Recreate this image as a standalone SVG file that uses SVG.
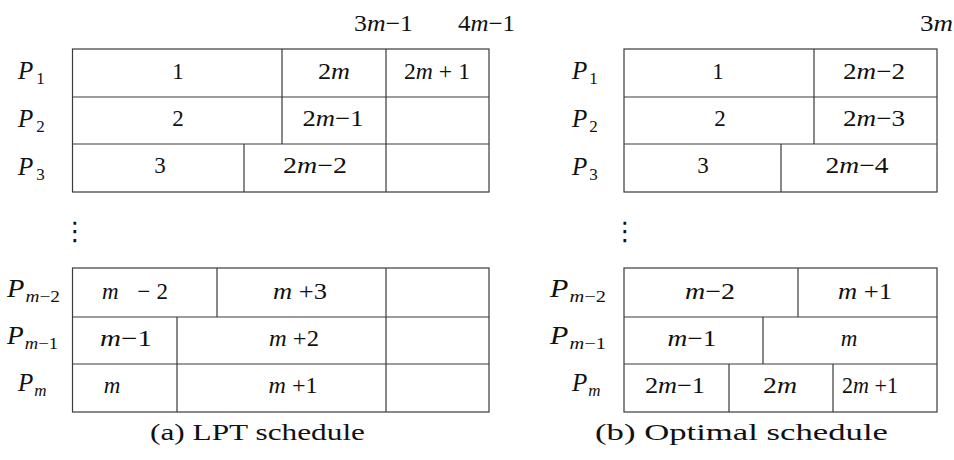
<svg xmlns="http://www.w3.org/2000/svg" width="954" height="460" viewBox="0 0 954 460">
<style>
.ln{stroke:#3a3a3a;stroke-width:1.2;fill:none}
text{font-family:'Liberation Serif',serif;fill:#111}
.t{font-size:23px}
.c{text-anchor:middle}
.i{font-style:italic}
.p{font-size:25px}
.s{font-size:17px}
.cap{font-size:23px}
.dots{font-family:'DejaVu Sans',sans-serif;font-size:26px;text-anchor:middle}
</style>
<rect width="954" height="460" fill="#fff"/>

<g id="time-labels">
<text class="t" x="354" y="31" textLength="59" lengthAdjust="spacingAndGlyphs">3<tspan class="i">m</tspan>−1</text>
<text class="t" x="458" y="31" textLength="57" lengthAdjust="spacingAndGlyphs">4<tspan class="i">m</tspan>−1</text>
<text class="t" x="920" y="31" textLength="33" lengthAdjust="spacingAndGlyphs">3<tspan class="i">m</tspan></text>
</g>

<g id="lpt-schedule">
<g id="lpt-frame">
<rect class="ln" x="72.5" y="49" width="416.5" height="143"/>
<line class="ln" x1="72.5" y1="97" x2="489" y2="97"/>
<line class="ln" x1="72.5" y1="144" x2="489" y2="144"/>
<rect class="ln" x="72.5" y="268" width="416.5" height="144"/>
<line class="ln" x1="72.5" y1="317" x2="489" y2="317"/>
<line class="ln" x1="72.5" y1="364" x2="489" y2="364"/>
</g>
<g id="lpt-p1">
<text class="p" x="18" y="79"><tspan class="i">P</tspan><tspan class="s" dx="3" dy="5">1</tspan></text>
<line class="ln" x1="282" y1="49" x2="282" y2="97"/>
<line class="ln" x1="386" y1="49" x2="386" y2="97"/>
<text class="t c" x="178" y="79">1</text>
<text class="t c" x="334" y="79" textLength="32" lengthAdjust="spacingAndGlyphs">2<tspan class="i">m</tspan></text>
<text class="t c" x="437" y="79" textLength="66" lengthAdjust="spacingAndGlyphs">2<tspan class="i">m</tspan> + 1</text>
</g>
<g id="lpt-p2">
<text class="p" x="18" y="127"><tspan class="i">P</tspan><tspan class="s" dx="3" dy="5">2</tspan></text>
<line class="ln" x1="282" y1="97" x2="282" y2="144"/>
<line class="ln" x1="386" y1="97" x2="386" y2="144"/>
<text class="t c" x="178" y="126">2</text>
<text class="t c" x="333" y="126" textLength="61" lengthAdjust="spacingAndGlyphs">2<tspan class="i">m</tspan>−1</text>
</g>
<g id="lpt-p3">
<text class="p" x="18" y="175"><tspan class="i">P</tspan><tspan class="s" dx="3" dy="5">3</tspan></text>
<line class="ln" x1="244" y1="144" x2="244" y2="192"/>
<line class="ln" x1="386" y1="144" x2="386" y2="192"/>
<text class="t c" x="160" y="173">3</text>
<text class="t c" x="315" y="173" textLength="64" lengthAdjust="spacingAndGlyphs">2<tspan class="i">m</tspan>−2</text>
</g>
<text class="dots" x="75" y="240">⋮</text>
<g id="lpt-pm2">
<text class="p" x="7" y="297" textLength="53" lengthAdjust="spacingAndGlyphs"><tspan class="i">P</tspan><tspan class="s i" dx="1" dy="5">m</tspan><tspan class="s">−2</tspan></text>
<line class="ln" x1="217" y1="268" x2="217" y2="317"/>
<line class="ln" x1="386" y1="268" x2="386" y2="317"/>
<text class="t c" x="135" y="299" textLength="66" lengthAdjust="spacing"><tspan class="i">m</tspan> −2</text>
<text class="t c" x="300" y="299" textLength="54" lengthAdjust="spacingAndGlyphs"><tspan class="i">m</tspan> +3</text>
</g>
<g id="lpt-pm1">
<text class="p" x="7" y="344" textLength="51" lengthAdjust="spacingAndGlyphs"><tspan class="i">P</tspan><tspan class="s i" dx="1" dy="5">m</tspan><tspan class="s">−1</tspan></text>
<line class="ln" x1="177" y1="317" x2="177" y2="364"/>
<line class="ln" x1="386" y1="317" x2="386" y2="364"/>
<text class="t c" x="126" y="346" textLength="52" lengthAdjust="spacingAndGlyphs"><tspan class="i">m</tspan>−1</text>
<text class="t c" x="294" y="346" textLength="50" lengthAdjust="spacingAndGlyphs"><tspan class="i">m</tspan> +2</text>
</g>
<g id="lpt-pm">
<text class="p" x="18" y="391"><tspan class="i">P</tspan><tspan class="s i" dx="1" dy="5">m</tspan></text>
<line class="ln" x1="177" y1="364" x2="177" y2="412"/>
<line class="ln" x1="386" y1="364" x2="386" y2="412"/>
<text class="t c" x="112" y="393"><tspan class="i">m</tspan></text>
<text class="t c" x="293" y="393" textLength="49" lengthAdjust="spacingAndGlyphs"><tspan class="i">m</tspan> +1</text>
</g>
<text class="cap" x="150" y="440" textLength="215" lengthAdjust="spacingAndGlyphs">(a) LPT  schedule</text>
</g>

<g id="optimal-schedule">
<g id="opt-frame">
<rect class="ln" x="624" y="49" width="313" height="143"/>
<line class="ln" x1="624" y1="97" x2="937" y2="97"/>
<line class="ln" x1="624" y1="144" x2="937" y2="144"/>
<rect class="ln" x="624" y="268" width="313" height="144"/>
<line class="ln" x1="624" y1="317" x2="937" y2="317"/>
<line class="ln" x1="624" y1="364" x2="937" y2="364"/>
</g>
<g id="opt-p1">
<text class="p" x="572" y="79"><tspan class="i">P</tspan><tspan class="s" dx="2" dy="5">1</tspan></text>
<line class="ln" x1="814" y1="49" x2="814" y2="97"/>
<text class="t c" x="718" y="79">1</text>
<text class="t c" x="874" y="79" textLength="62" lengthAdjust="spacingAndGlyphs">2<tspan class="i">m</tspan>−2</text>
</g>
<g id="opt-p2">
<text class="p" x="572" y="127"><tspan class="i">P</tspan><tspan class="s" dx="2" dy="5">2</tspan></text>
<line class="ln" x1="814" y1="97" x2="814" y2="144"/>
<text class="t c" x="720" y="126">2</text>
<text class="t c" x="874" y="126" textLength="62" lengthAdjust="spacingAndGlyphs">2<tspan class="i">m</tspan>−3</text>
</g>
<g id="opt-p3">
<text class="p" x="572" y="175"><tspan class="i">P</tspan><tspan class="s" dx="2" dy="5">3</tspan></text>
<line class="ln" x1="781" y1="144" x2="781" y2="192"/>
<text class="t c" x="703" y="173">3</text>
<text class="t c" x="857" y="173" textLength="63" lengthAdjust="spacingAndGlyphs">2<tspan class="i">m</tspan>−4</text>
</g>
<text class="dots" x="625" y="240">⋮</text>
<g id="opt-pm2">
<text class="p" x="550" y="297" textLength="56" lengthAdjust="spacingAndGlyphs"><tspan class="i">P</tspan><tspan class="s i" dx="1" dy="5">m</tspan><tspan class="s">−2</tspan></text>
<line class="ln" x1="798" y1="268" x2="798" y2="317"/>
<text class="t c" x="710" y="299" textLength="50" lengthAdjust="spacingAndGlyphs"><tspan class="i">m</tspan>−2</text>
<text class="t c" x="865" y="299" textLength="54" lengthAdjust="spacingAndGlyphs"><tspan class="i">m</tspan> +1</text>
</g>
<g id="opt-pm1">
<text class="p" x="550" y="344" textLength="56" lengthAdjust="spacingAndGlyphs"><tspan class="i">P</tspan><tspan class="s i" dx="1" dy="5">m</tspan><tspan class="s">−1</tspan></text>
<line class="ln" x1="763" y1="317" x2="763" y2="364"/>
<text class="t c" x="692" y="346" textLength="49" lengthAdjust="spacingAndGlyphs"><tspan class="i">m</tspan>−1</text>
<text class="t c" x="849" y="346"><tspan class="i">m</tspan></text>
</g>
<g id="opt-pm">
<text class="p" x="572" y="391"><tspan class="i">P</tspan><tspan class="s i" dx="1" dy="5">m</tspan></text>
<line class="ln" x1="729" y1="364" x2="729" y2="412"/>
<line class="ln" x1="833" y1="364" x2="833" y2="412"/>
<text class="t c" x="675" y="393" textLength="60" lengthAdjust="spacingAndGlyphs">2<tspan class="i">m</tspan>−1</text>
<text class="t c" x="780" y="393" textLength="34" lengthAdjust="spacingAndGlyphs">2<tspan class="i">m</tspan></text>
<text class="t c" x="870" y="393" textLength="56" lengthAdjust="spacingAndGlyphs">2<tspan class="i">m</tspan> +1</text>
</g>
<text class="cap" x="595" y="440" textLength="293" lengthAdjust="spacingAndGlyphs">(b) Optimal  schedule</text>
</g>
</svg>
